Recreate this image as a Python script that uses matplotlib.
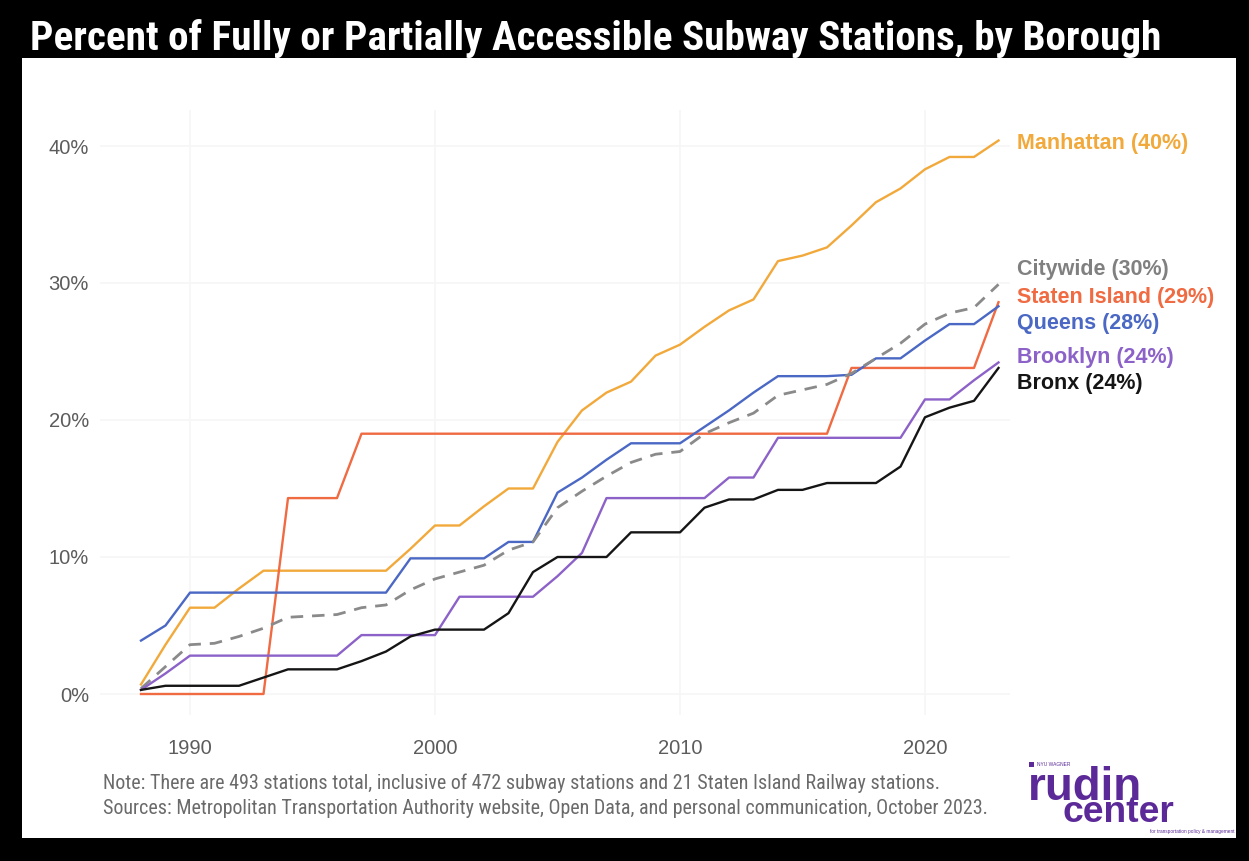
import matplotlib
matplotlib.use("Agg")
import matplotlib.pyplot as plt
from matplotlib import font_manager
from matplotlib.patches import Rectangle

# ---- data -----------------------------------------------------------------
years = list(range(1988, 2024))

manhattan = [0.7, 3.6, 6.3, 6.3, 7.7, 9.0, 9.0, 9.0, 9.0, 9.0, 9.0, 10.6,
             12.3, 12.3, 13.7, 15.0, 15.0, 18.4, 20.7, 22.0, 22.8, 24.7,
             25.5, 26.8, 28.0, 28.8, 31.6, 32.0, 32.6, 34.2, 35.9, 36.9,
             38.3, 39.2, 39.2, 40.4]
staten_island = [0.0, 0.0, 0.0, 0.0, 0.0, 0.0, 14.3, 14.3, 14.3, 19.0, 19.0,
                 19.0, 19.0, 19.0, 19.0, 19.0, 19.0, 19.0, 19.0, 19.0, 19.0,
                 19.0, 19.0, 19.0, 19.0, 19.0, 19.0, 19.0, 19.0, 23.8, 23.8,
                 23.8, 23.8, 23.8, 23.8, 28.6]
queens = [3.9, 5.0, 7.4, 7.4, 7.4, 7.4, 7.4, 7.4, 7.4, 7.4, 7.4, 9.9, 9.9,
          9.9, 9.9, 11.1, 11.1, 14.7, 15.8, 17.1, 18.3, 18.3, 18.3, 19.5,
          20.7, 22.0, 23.2, 23.2, 23.2, 23.3, 24.5, 24.5, 25.8, 27.0, 27.0,
          28.3]
citywide = [0.4, 2.0, 3.6, 3.7, 4.2, 4.8, 5.6, 5.7, 5.8, 6.3, 6.5, 7.6, 8.4,
            8.9, 9.4, 10.5, 11.1, 13.6, 14.8, 15.9, 16.9, 17.5, 17.7, 19.0,
            19.8, 20.5, 21.8, 22.2, 22.6, 23.4, 24.5, 25.6, 27.0, 27.8, 28.2,
            29.9]
brooklyn = [0.3, 1.5, 2.8, 2.8, 2.8, 2.8, 2.8, 2.8, 2.8, 4.3, 4.3, 4.3, 4.3,
            7.1, 7.1, 7.1, 7.1, 8.6, 10.3, 14.3, 14.3, 14.3, 14.3, 14.3,
            15.8, 15.8, 18.7, 18.7, 18.7, 18.7, 18.7, 18.7, 21.5, 21.5, 22.9,
            24.2]
bronx = [0.3, 0.6, 0.6, 0.6, 0.6, 1.2, 1.8, 1.8, 1.8, 2.4, 3.1, 4.2, 4.7,
         4.7, 4.7, 5.9, 8.9, 10.0, 10.0, 10.0, 11.8, 11.8, 11.8, 13.6, 14.2,
         14.2, 14.9, 14.9, 15.4, 15.4, 15.4, 16.6, 20.2, 20.9, 21.4, 23.8]

x_ticks = [1990, 2000, 2010, 2020]
y_ticks = [0, 10, 20, 30, 40]

title = "Percent of Fully or Partially Accessible Subway Stations, by Borough"
note_lines = [
    "Note: There are 493 stations total, inclusive of 472 subway stations and 21 Staten Island Railway stations.",
    "Sources: Metropolitan Transportation Authority website, Open Data, and personal communication, October 2023.",
]

# ---- fonts ------------------------------------------------------------------
def first_font(cands):
    for c in cands:
        try:
            font_manager.findfont(font_manager.FontProperties(family=c),
                                  fallback_to_default=False)
            return c
        except Exception:
            pass
    return "DejaVu Sans"

TITLE_FONT = first_font(["Liberation Sans Narrow", "Roboto Condensed", "Roboto", "Liberation Sans"])
BODY_FONT = first_font(["Liberation Sans", "Roboto", "DejaVu Sans"])
NARROW_FONT = first_font(["Liberation Sans Narrow", "Roboto Condensed", "Liberation Sans"])

# ---- figure -----------------------------------------------------------------
W, H = 1249, 861
fig = plt.figure(figsize=(W / 100, H / 100), dpi=100)
fig.patch.set_facecolor("black")

def fx(px):
    return px / W

def fy(py):
    return 1 - py / H

# white card behind everything
fig.patches.append(Rectangle((fx(22), fy(838)), fx(1236) - fx(22), fy(58) - fy(838),
                             transform=fig.transFigure, facecolor="white",
                             edgecolor="none", zorder=-5))

renderer = fig.canvas.get_renderer()

def fit_width(t, width_px):
    bb = t.get_window_extent(renderer)
    t.set_fontsize(t.get_fontsize() * width_px / bb.width)

t_title = fig.text(fx(30), fy(38), title, color="white", fontsize=30,
                   fontweight="bold", family=TITLE_FONT, va="center", ha="left")
fit_width(t_title, 1130)

# ---- axes -------------------------------------------------------------------
ax_l, ax_r, ax_t, ax_b = 100, 1010, 110, 715
ax = fig.add_axes([fx(ax_l), fy(ax_b), fx(ax_r) - fx(ax_l), fy(ax_t) - fy(ax_b)])
ax.set_facecolor("none")
ax.set_zorder(1)

def px_to_year(px):
    return 1990 + (px - 190) / 24.5

def py_to_val(py):
    return (694 - py) / 13.7

ax.set_xlim(px_to_year(ax_l), px_to_year(ax_r))
ax.set_ylim(py_to_val(ax_b), py_to_val(ax_t))
for s in ax.spines.values():
    s.set_visible(False)

ax.set_xticks(x_ticks)
ax.set_xticklabels([str(v) for v in x_ticks])
ax.set_yticks(y_ticks)
ax.set_yticklabels([f"{v}%" for v in y_ticks])
ax.tick_params(length=0, colors="#5c5c5c", labelsize=14.5)
ax.tick_params(axis="x", pad=17)
ax.tick_params(axis="y", pad=8)
for lab in ax.get_xticklabels() + ax.get_yticklabels():
    lab.set_family(BODY_FONT)
ax.grid(True, color="#f6f6f6", linewidth=1.2)
ax.set_axisbelow(True)

series = [
    ("Manhattan", manhattan, "#f2a93b", "-", "#f2a93b", 143),
    ("Staten Island", staten_island, "#f06a42", "-", "#f06a42", 297),
    ("Queens", queens, "#4a68c4", "-", "#4a68c4", 323),
    ("Citywide", citywide, "#8a8a8a", "--", "#808080", 270),
    ("Brooklyn", brooklyn, "#8c62c8", "-", "#8c62c8", 358),
    ("Bronx", bronx, "#151515", "-", "#151515", 384),
]

for name, vals, col, ls, lab_col, lab_y in series:
    kw = dict(color=col, linewidth=1.7, solid_joinstyle="round")
    if ls == "--":
        kw.update(linestyle=(0, (4.5, 3.2)), linewidth=2.0)
    ax.plot(years, vals, **kw)
    fig.text(fx(1017), fy(lab_y), f"{name} ({round(vals[-1])}%)", color=lab_col,
             fontsize=15.5, fontweight="bold", family=BODY_FONT,
             va="center", ha="left", zorder=3)

# ---- notes ------------------------------------------------------------------
t_notes = []
for i, line in enumerate(note_lines):
    t = fig.text(fx(103), fy(783 + 25 * i), line, color="#6a6a6a", fontsize=10,
                 family=NARROW_FONT, va="center", ha="left", zorder=3)
    t_notes.append(t)
fit_width(t_notes[1], 882)
t_notes[0].set_fontsize(t_notes[1].get_fontsize())

# ---- logo -------------------------------------------------------------------
purple = "#5b2a98"
fig.patches.append(Rectangle((fx(1029), fy(767)), fx(5), fy(762) - fy(767),
                             transform=fig.transFigure, facecolor=purple,
                             edgecolor="none", zorder=3))
fig.text(fx(1037), fy(764.5), "NYU WAGNER", color=purple, fontsize=3.5,
         family=BODY_FONT, va="center", ha="left", zorder=3)
t_r = fig.text(fx(1028), fy(800), "rudin", color=purple, fontsize=28,
               fontweight="heavy", family=BODY_FONT, va="baseline", ha="left",
               zorder=3)
fit_width(t_r, 114)
t_c = fig.text(fx(1063), fy(822), "center", color=purple, fontsize=28,
               fontweight="heavy", family=BODY_FONT, va="baseline", ha="left",
               zorder=3)
fit_width(t_c, 112)
fig.text(fx(1235), fy(831.5), "for transportation policy & management",
         color=purple, fontsize=3.4, family=BODY_FONT, va="center", ha="right",
         zorder=3)

fig.savefig("out.png", dpi=100, facecolor=fig.get_facecolor())
